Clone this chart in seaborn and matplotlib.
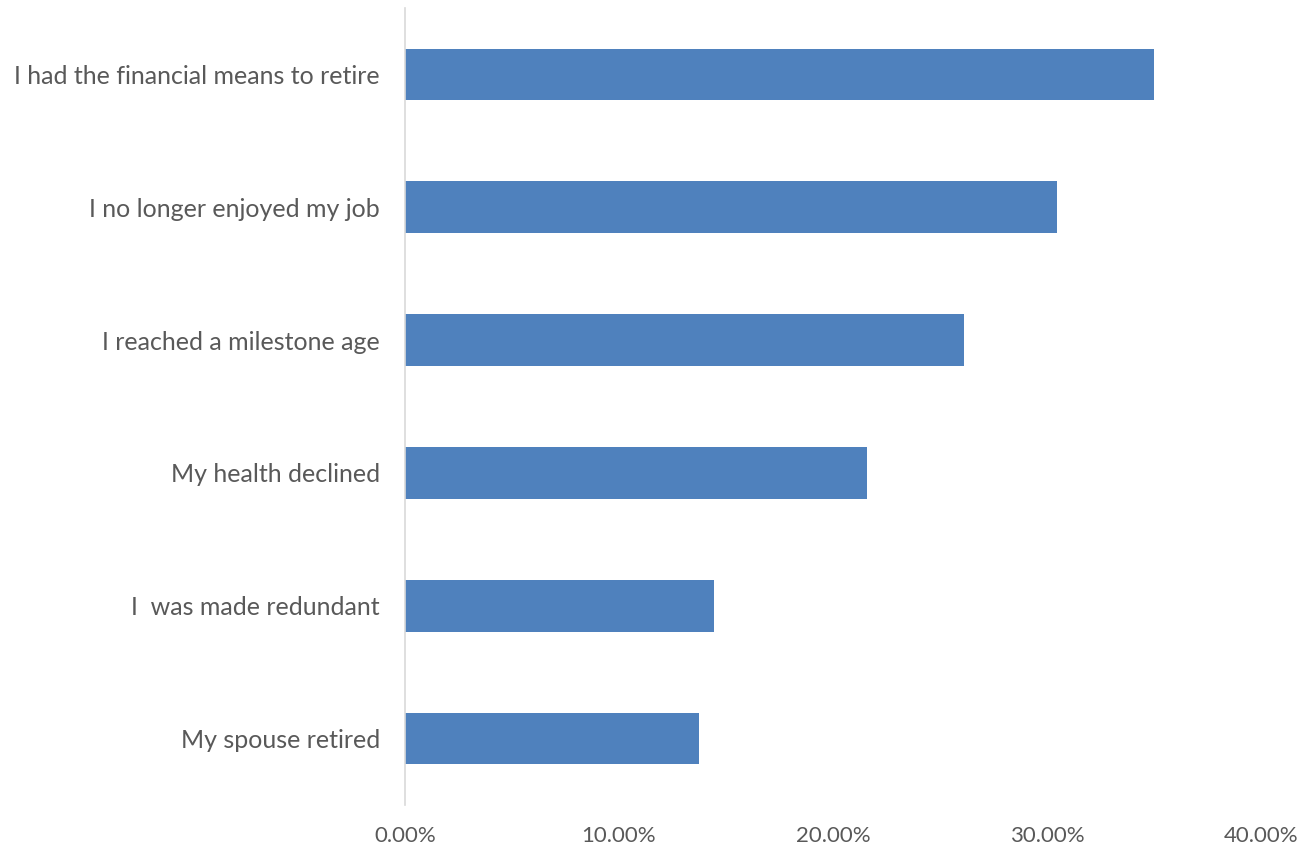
import matplotlib
matplotlib.use("Agg")
import matplotlib.pyplot as plt
import seaborn as sns
import pandas as pd
from matplotlib.ticker import FuncFormatter

categories = [
    "I had the financial means to retire",
    "I no longer enjoyed my job",
    "I reached a milestone age",
    "My health declined",
    "I  was made redundant",
    "My spouse retired",
]
values = [35.0, 30.45, 26.1, 21.6, 14.45, 13.75]
xticks = [0, 10, 20, 30, 40]

sns.set_theme(style="white")
plt.rcParams["font.family"] = ["Lato", "DejaVu Sans"]

df = pd.DataFrame({"reason": categories, "pct": values})

fig = plt.figure(figsize=(13.01, 8.5), dpi=100)
ax = fig.add_axes([405 / 1301, 1 - 805 / 850, (1261 - 405) / 1301, (805 - 8) / 850])

sns.barplot(data=df, y="reason", x="pct", orient="h", color="#4F81BD",
            saturation=1, width=0.39, ax=ax, edgecolor="none", linewidth=0)

ax.set_xlim(0, 40)
ax.set_ylim(5.5, -0.5)
ax.set_xticks(xticks)
ax.xaxis.set_major_formatter(FuncFormatter(lambda v, p: f"{v:.2f}%"))
ax.set_xlabel("")
ax.set_ylabel("")
for s in ["top", "right", "bottom"]:
    ax.spines[s].set_visible(False)
ax.spines["left"].set_color("#D9D9D9")
ax.spines["left"].set_linewidth(1.2)
ax.tick_params(axis="both", length=0, colors="#595959")
ax.tick_params(axis="y", pad=18, labelsize=18)
ax.tick_params(axis="x", pad=15, labelsize=16)
ax.grid(False)

fig.savefig("out.png", dpi=100, facecolor="white")
